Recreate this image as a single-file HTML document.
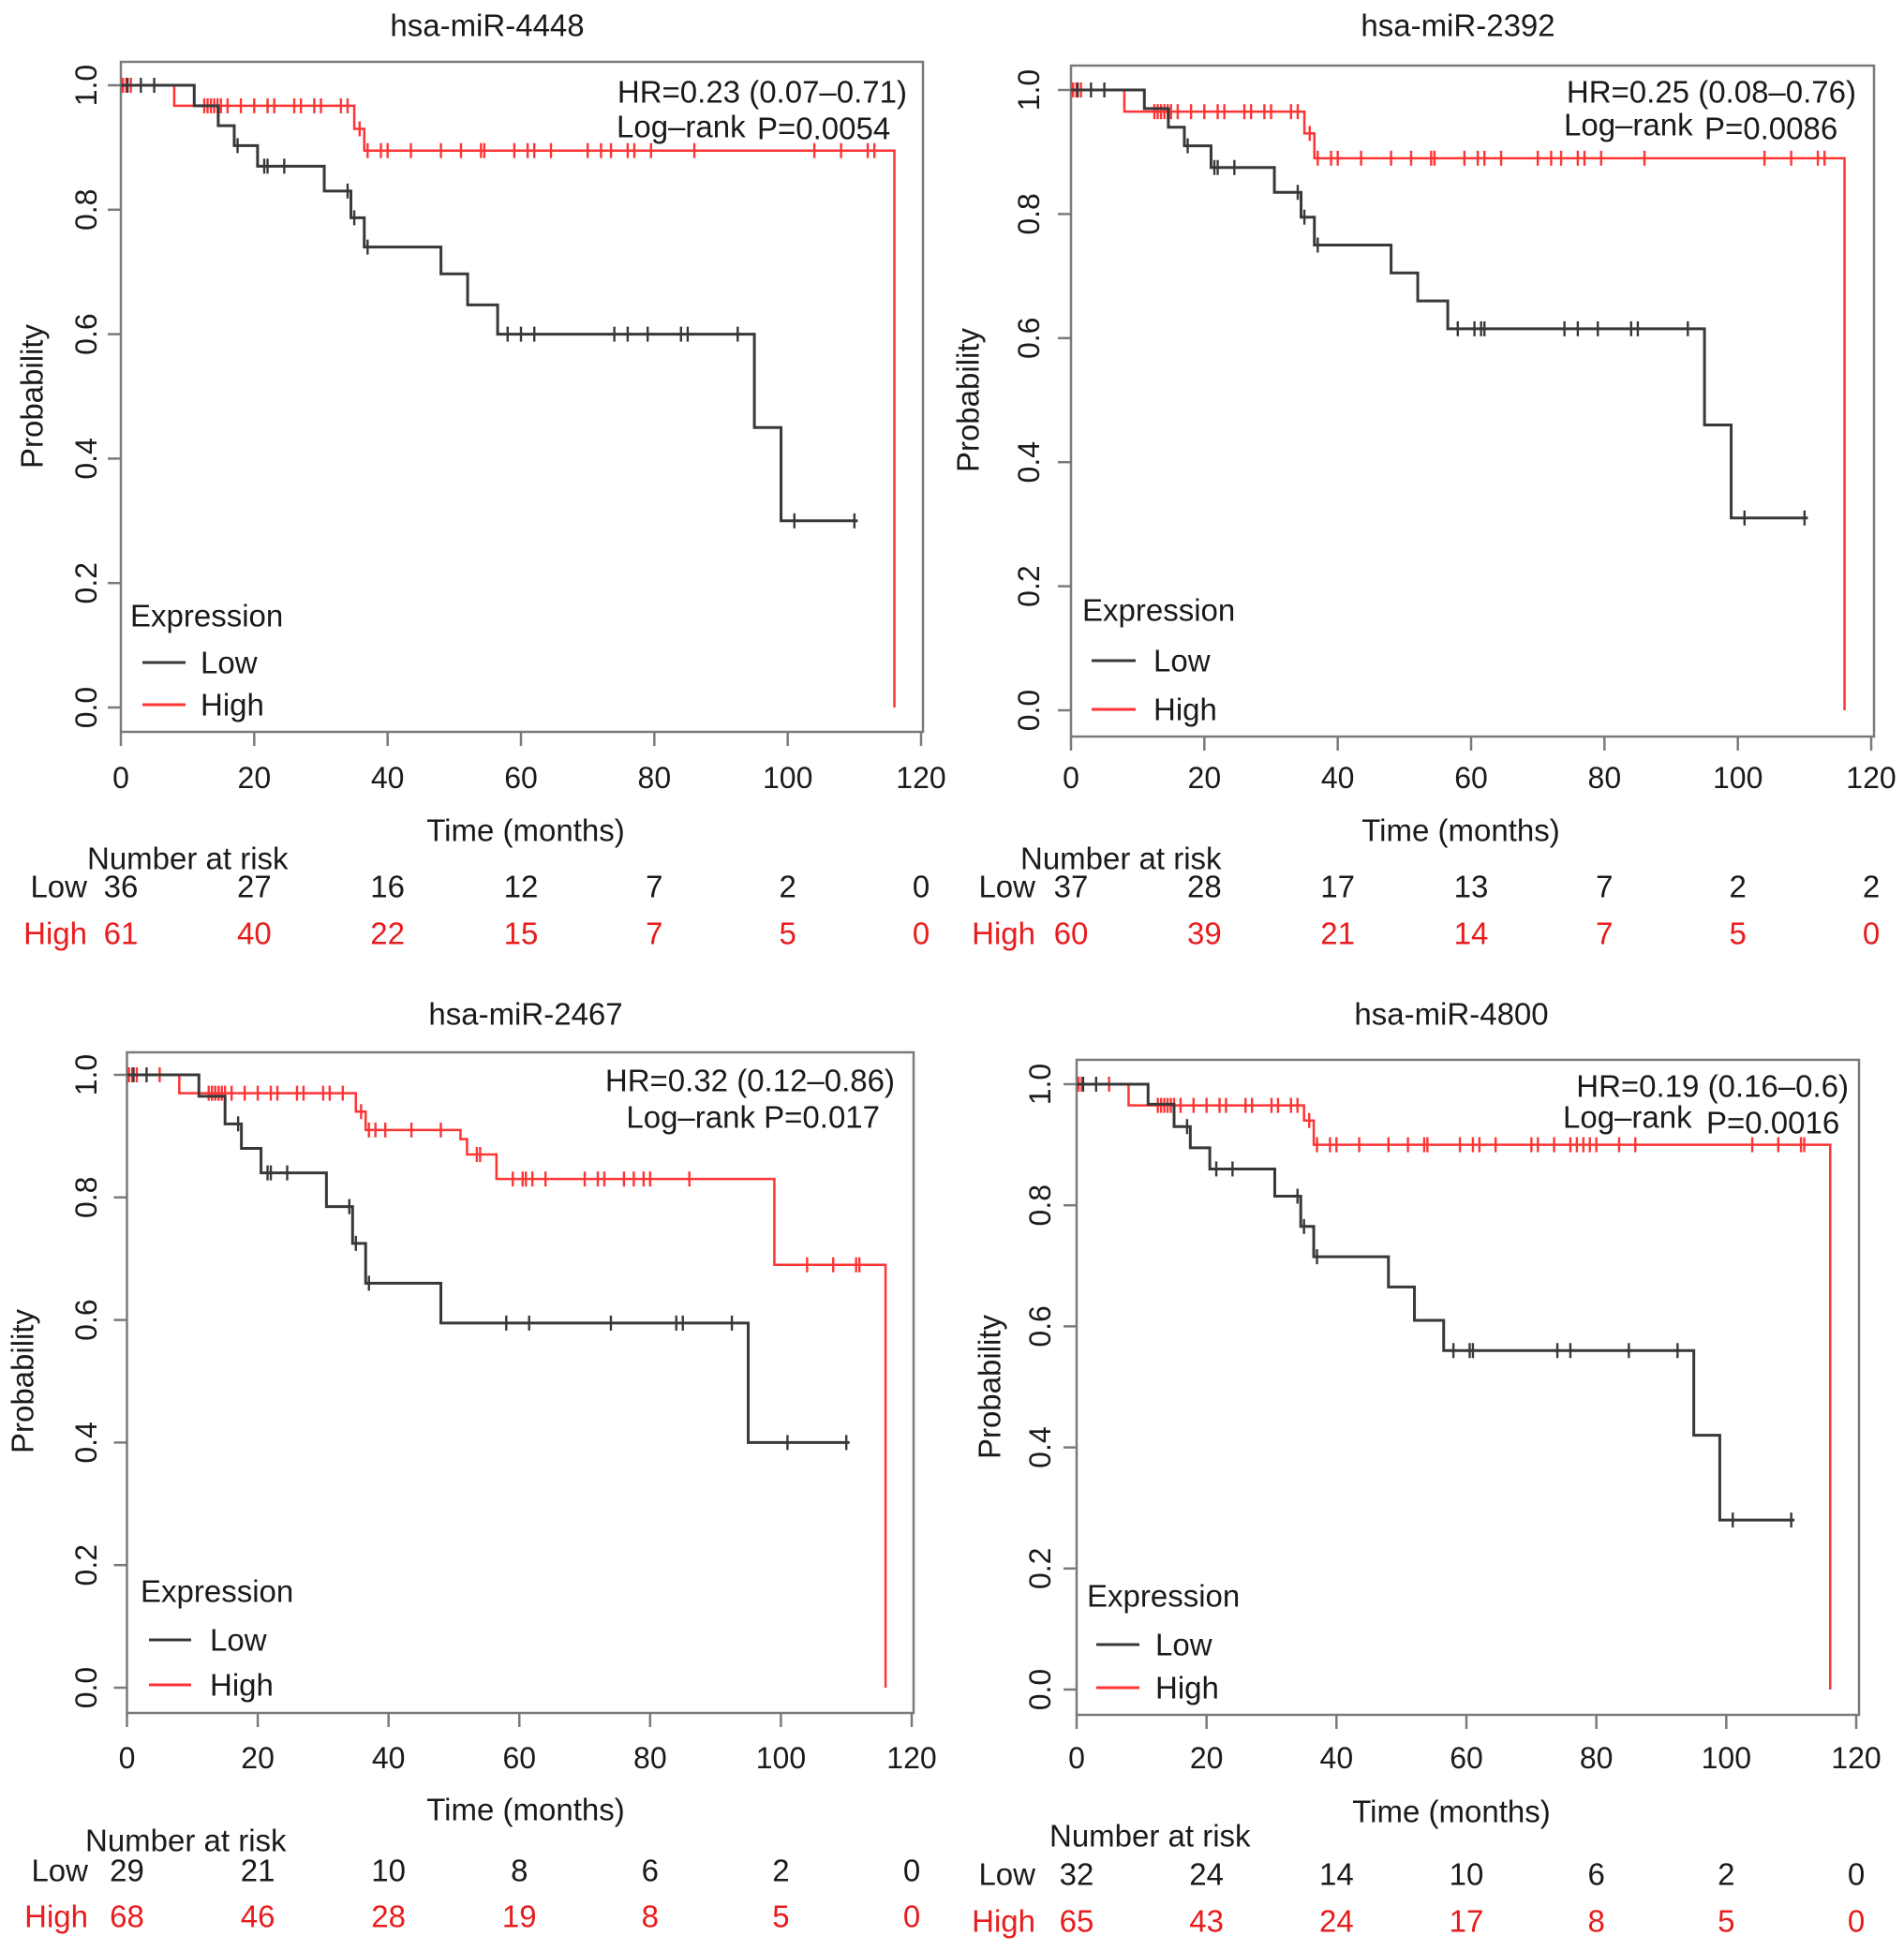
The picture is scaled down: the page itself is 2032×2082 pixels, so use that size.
<!DOCTYPE html>
<html><head><meta charset="utf-8">
<style>
html,body{margin:0;padding:0;background:#fff;}
svg{display:block;font-family:"Liberation Sans",Arial,sans-serif;}
</style></head>
<body>
<svg id="fig" width="2032" height="2082" viewBox="0 0 2032 2082" xmlns="http://www.w3.org/2000/svg"></svg>
<script>
// ---------- data ----------
const xTicks = [0,20,40,60,80,100,120];
const yTicks = [0.0,0.2,0.4,0.6,0.8,1.0];
const yTickLabels = ["0.0","0.2","0.4","0.6","0.8","1.0"];
const titles = ["hsa-miR-4448","hsa-miR-2392","hsa-miR-2467","hsa-miR-4800"];
const hrTexts = ["HR=0.23 (0.07\u20130.71)","HR=0.25 (0.08\u20130.76)","HR=0.32 (0.12\u20130.86)","HR=0.19 (0.16\u20130.6)"];
const pTexts = ["P=0.0054","P=0.0086","P=0.017","P=0.0016"];

// panel 1
const p1LowTimes = [11,14.6,17,20.5,30.5,34.5,36.5,48,52,56.5,95,99];
const p1LowSurv  = [0.967,0.935,0.903,0.87,0.83,0.787,0.74,0.697,0.647,0.60,0.45,0.30];
const p1LowEnd = 110.5;
const p1LowCens = [1,3,5,17.5,21.5,22,24.5,34,35,37,58,60,62,74,76,79,84,85,92.5,101,110];
const p1HighTimes = [8,35,36.5,116];
const p1HighSurv  = [0.967,0.93,0.895,0];
const p1HighEnd = 116;
const p1HighCens = [0.3,0.8,1.5,12.5,13,13.5,14,14.5,15,16,18,20,22,23,26,27,29,30,33,34,35.8,37,39,40,43.5,48,51,54,54.5,59,61,62,64.5,70,72,73.5,76,77,79.5,86,104,108,112,113];
const p1RiskLow = [36,27,16,12,7,2,0];
const p1RiskHigh = [61,40,22,15,7,5,0];

// panel 2
const p2LowTimes = [11,14.6,17,21,30.5,34.5,36.5,48,52,56.5,95,99];
const p2LowSurv  = [0.97,0.94,0.91,0.875,0.835,0.795,0.75,0.705,0.66,0.615,0.46,0.31];
const p2LowEnd = 110.5;
const p2LowCens = [1,3,5,17.5,21.5,22,24.5,34,35,37,58,60.5,61.5,62,74,76,79,84,85,92.5,101,110];
const p2HighTimes = [8,35,36.5,116];
const p2HighSurv  = [0.965,0.93,0.89,0];
const p2HighEnd = 116;
const p2HighCens = [0.3,0.8,1.5,12.5,13,13.5,14,14.5,15,16,18,20,22,23,26,27,29,30,33,34,35.8,37,39,40,43.5,48,51,54,54.5,59,61,62,64.5,70,72,73.5,76,77,79.5,86,104,108,112,113];
const p2RiskLow = [37,28,17,13,7,2,2];
const p2RiskHigh = [60,39,21,14,7,5,0];

// panel 3
const p3LowTimes = [11,15,17.5,20.5,30.5,34.5,36.5,48,95];
const p3LowSurv  = [0.965,0.92,0.88,0.84,0.785,0.725,0.66,0.595,0.40];
const p3LowEnd = 110.5;
const p3LowCens = [1,3,17,21.5,22,24.5,34,35,37,58,61.5,74,84,85,92.5,101,110];
const p3HighTimes = [8,35,36.5,51,52,56.5,99,116];
const p3HighSurv  = [0.97,0.94,0.91,0.895,0.87,0.83,0.69,0];
const p3HighEnd = 116;
const p3HighCens = [0.3,0.8,1.5,5,12.5,13,13.5,14,14.5,15,16,18,20,22,23,26,27,30,31,33,35.8,37,38,39.5,43.5,48,53.5,54,59,60.5,61,62,64,70,72,73,76,77.5,79,80,86,104,108,111.5,112];
const p3RiskLow = [29,21,10,8,6,2,0];
const p3RiskHigh = [68,46,28,19,8,5,0];

// panel 4
const p4LowTimes = [11,15,17.5,20.5,30.5,34.5,36.5,48,52,56.5,95,99];
const p4LowSurv  = [0.967,0.93,0.895,0.86,0.815,0.765,0.715,0.665,0.61,0.56,0.42,0.28];
const p4LowEnd = 110.5;
const p4LowCens = [1,3,17,21.5,24,34,35,37,58,60.5,61,74,76,85,92.5,101,110];
const p4HighTimes = [8,35,36.5,116];
const p4HighSurv  = [0.965,0.94,0.90,0];
const p4HighEnd = 116;
const p4HighCens = [0.3,0.8,5,12.5,13,13.5,14,14.5,15,16,18,20,22,23,26,27,30,31,33,34,35.8,37,39,40,43.5,48,51,53.5,54,59,61,62,64.5,70,71,73.5,76,77,78,79,80,83.5,86,104,108,111.5,112];
const p4RiskLow = [32,24,14,10,6,2,0];
const p4RiskHigh = [65,43,24,17,8,5,0];

// ---------- layout ----------
const layouts = [
 {x0:129,x1:983,y1:91,y0:755,bl:129,br:985,bt:66,bb:781,tx:520,ty:27,ytx:92,px:34,hrR:968,hrY:98,lrL:658,lrY:135,pL:808,pY:137,twoLineRight:false,
  exL:139,exY:657,lnA:152,lnB:198,lowY:707,highY:752,legT:214,tickY:830,xlX:561,xlY:886,narL:93,narY:916,rowR:93,rLowY:946,rHighY:996},
 {x0:1143,x1:1997,y1:96,y0:758,bl:1143,br:2000,bt:70,bb:786,tx:1556,ty:27,ytx:1098,px:1033,hrR:1981,hrY:98,lrL:1669,lrY:133,pL:1819,pY:137,twoLineRight:false,
  exL:1155,exY:651,lnA:1165,lnB:1212,lowY:705,highY:757,legT:1231,tickY:830,xlX:1559,xlY:886,narL:1089,narY:916,rowR:1105,rLowY:946,rHighY:996},
 {x0:135.5,x1:973,y1:1147,y0:1801,bl:135.5,br:975,bt:1123,bb:1828,tx:561,ty:1082,ytx:92,px:24,hrR:955,hrY:1153,lrR:939,lrY:1192,twoLineRight:true,
  exL:150,exY:1698,lnA:159,lnB:204,lowY:1750,highY:1798,legT:224,tickY:1876,xlX:561,xlY:1931,narL:91,narY:1964,rowR:94,rLowY:1996,rHighY:2045},
 {x0:1149,x1:1981,y1:1157,y0:1803,bl:1149,br:1984,bt:1131,bb:1830,tx:1549,ty:1082,ytx:1110,px:1056,hrR:1973,hrY:1159,lrL:1668,lrY:1192,pL:1821,pY:1198,twoLineRight:false,
  exL:1160,exY:1703,lnA:1170,lnB:1216,lowY:1755,highY:1801,legT:1233,tickY:1876,xlX:1549,xlY:1933,narL:1120,narY:1959,rowR:1105,rLowY:2000,rHighY:2050}
];
const panelData = [
 {lt:p1LowTimes,ls:p1LowSurv,le:p1LowEnd,lc:p1LowCens,ht:p1HighTimes,hs:p1HighSurv,he:p1HighEnd,hc:p1HighCens,rl:p1RiskLow,rh:p1RiskHigh},
 {lt:p2LowTimes,ls:p2LowSurv,le:p2LowEnd,lc:p2LowCens,ht:p2HighTimes,hs:p2HighSurv,he:p2HighEnd,hc:p2HighCens,rl:p2RiskLow,rh:p2RiskHigh},
 {lt:p3LowTimes,ls:p3LowSurv,le:p3LowEnd,lc:p3LowCens,ht:p3HighTimes,hs:p3HighSurv,he:p3HighEnd,hc:p3HighCens,rl:p3RiskLow,rh:p3RiskHigh},
 {lt:p4LowTimes,ls:p4LowSurv,le:p4LowEnd,lc:p4LowCens,ht:p4HighTimes,hs:p4HighSurv,he:p4HighEnd,hc:p4HighCens,rl:p4RiskLow,rh:p4RiskHigh}
];

const NS = "http://www.w3.org/2000/svg";
const svg = document.getElementById("fig");
const LOWC = "#383838", HIGHC = "#ff3434", AXC = "#7a7a7a", TXT = "#1a1a1a", REDT = "#e81c1c";

function mk(tag, attrs, parent){
  const e = document.createElementNS(NS, tag);
  for (const k in attrs) e.setAttribute(k, attrs[k]);
  (parent||svg).appendChild(e);
  return e;
}
function txt(parent, s, x, y, size, anchor, color){
  const t = mk("text", {x:x, y:y, "font-size":size, "text-anchor":anchor, "dominant-baseline":"central", fill:color||TXT}, parent);
  t.textContent = s;
  return t;
}
function survAt(times, surv, t){
  let s = 1;
  for (let i=0;i<times.length;i++){ if (times[i] <= t) s = surv[i]; }
  return s;
}

layouts.forEach((L, i) => {
  const D = panelData[i];
  const sx = t => L.x0 + (L.x1 - L.x0) * t / 120;
  const sy = p => L.y0 - (L.y0 - L.y1) * p;
  const g = mk("g", {});
  
  

  const title = txt(g, titles[i], L.tx, L.ty, 33, "middle");
  
  

  const box = mk("rect", {x:L.bl, y:L.bt, width:L.br-L.bl, height:L.bb-L.bt, fill:"none", stroke:AXC, "stroke-width":2.5}, g);
  
  

  const xg = mk("g", {}, g);
  
  
  xTicks.forEach(v => {
    mk("line", {x1:sx(v), x2:sx(v), y1:L.bb, y2:L.bb+15, stroke:AXC, "stroke-width":2.5}, xg);
    const tl = txt(xg, String(v), sx(v), L.tickY, 32, "middle");
    
    
  });
  const xl = txt(g, "Time (months)", L.xlX, L.xlY, 33, "middle");
  
  

  const yg = mk("g", {}, g);
  
  
  yTicks.forEach((v, k) => {
    mk("line", {x1:L.bl-14, x2:L.bl, y1:sy(v), y2:sy(v), stroke:AXC, "stroke-width":2.5}, yg);
    const tl = txt(yg, yTickLabels[k], L.ytx, sy(v), 32, "middle");
    tl.setAttribute("transform", "rotate(-90 " + L.ytx + " " + sy(v) + ")");
    
    
  });
  const pyc = (L.y0 + L.y1) / 2;
  const yl = txt(g, "Probability", L.px, pyc, 33, "middle");
  yl.setAttribute("transform", "rotate(-90 " + L.px + " " + pyc + ")");
  
  

  function curve(times, surv, end, cens, color, width, name){
    let d = "M" + sx(0) + " " + sy(1);
    times.forEach((t, k) => {
      d += " H" + sx(t) + " V" + sy(surv[k]);
    });
    if (end > times[times.length-1]) d += " H" + sx(end);
    const p = mk("path", {d:d, fill:"none", stroke:color, "stroke-width":width}, g);
    
    
    const cg = mk("g", {}, g);
    
    
    cens.forEach(t => {
      const y = sy(survAt(times, surv, t));
      mk("line", {x1:sx(t), x2:sx(t), y1:y-8, y2:y+8, stroke:color, "stroke-width":2.4}, cg);
    });
  }
  curve(D.ht, D.hs, D.he, D.hc, HIGHC, 2.5, "high");
  curve(D.lt, D.ls, D.le, D.lc, LOWC, 3, "low");

  const hr = txt(g, hrTexts[i], L.hrR, L.hrY, 33, "end");
  
  
  if (L.twoLineRight){
    const lr = txt(g, "Log\u2013rank " + pTexts[i], L.lrR, L.lrY, 33, "end");
    
    
  } else {
    const lr = txt(g, "Log\u2013rank", L.lrL, L.lrY, 33, "start");
    
    
    const pv = txt(g, pTexts[i], L.pL, L.pY, 33, "start");
    
    
  }

  const lg = mk("g", {}, g);
  
  
  txt(lg, "Expression", L.exL, L.exY, 33, "start");
  mk("line", {x1:L.lnA, x2:L.lnB, y1:L.lowY, y2:L.lowY, stroke:LOWC, "stroke-width":3}, lg);
  const le1 = txt(lg, "Low", L.legT, L.lowY, 33, "start");
  
  
  mk("line", {x1:L.lnA, x2:L.lnB, y1:L.highY, y2:L.highY, stroke:HIGHC, "stroke-width":3}, lg);
  const le2 = txt(lg, "High", L.legT, L.highY, 33, "start");
  
  

  const rg = mk("g", {}, g);
  
  
  txt(rg, "Number at risk", L.narL, L.narY, 33, "start");
  txt(rg, "Low", L.rowR, L.rLowY, 33, "end");
  txt(rg, "High", L.rowR, L.rHighY, 33, "end", REDT);
  xTicks.forEach((v, k) => {
    const a = txt(rg, String(D.rl[k]), sx(v), L.rLowY, 33, "middle");
    
    
    const b = txt(rg, String(D.rh[k]), sx(v), L.rHighY, 33, "middle", REDT);
    
    
  });
});
</script>
</body></html>
